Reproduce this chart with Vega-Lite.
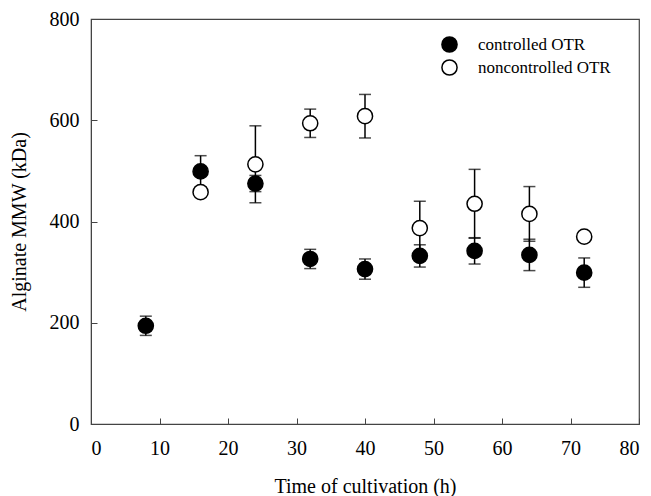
{
  "$schema": "https://vega.github.io/schema/vega-lite/v6.json",
  "width": 548,
  "height": 405,
  "autosize": "none",
  "padding": {"left": 91, "top": 19, "right": 12, "bottom": 72},
  "background": "white",
  "config": {
    "font": "Liberation Serif",
    "view": {"stroke": "#444", "strokeWidth": 1.2},
    "axis": {
      "domainColor": "#444",
      "tickColor": "#444",
      "grid": false,
      "labelColor": "black",
      "titleColor": "black",
      "labelFontSize": 20,
      "titleFontSize": 20,
      "titleFontWeight": "normal",
      "labelFont": "Liberation Serif",
      "titleFont": "Liberation Serif"
    }
  },
  "data": {
    "values": [
      {"time": 8, "group": "controlled OTR", "mean": 194, "lo": 175, "hi": 213},
      {"time": 16, "group": "controlled OTR", "mean": 499, "lo": 468, "hi": 530},
      {"time": 24, "group": "controlled OTR", "mean": 475, "lo": 459, "hi": 491},
      {"time": 32, "group": "controlled OTR", "mean": 326, "lo": 307, "hi": 345},
      {"time": 40, "group": "controlled OTR", "mean": 306, "lo": 286, "hi": 326},
      {"time": 48, "group": "controlled OTR", "mean": 332, "lo": 310, "hi": 354},
      {"time": 56, "group": "controlled OTR", "mean": 342, "lo": 316, "hi": 368},
      {"time": 64, "group": "controlled OTR", "mean": 334, "lo": 303, "hi": 365},
      {"time": 72, "group": "controlled OTR", "mean": 299, "lo": 270, "hi": 328},
      {"time": 16, "group": "noncontrolled OTR", "mean": 458, "lo": 450, "hi": 466},
      {"time": 24, "group": "noncontrolled OTR", "mean": 513, "lo": 437, "hi": 589},
      {"time": 32, "group": "noncontrolled OTR", "mean": 594, "lo": 566, "hi": 622},
      {"time": 40, "group": "noncontrolled OTR", "mean": 608, "lo": 565, "hi": 651},
      {"time": 48, "group": "noncontrolled OTR", "mean": 387, "lo": 334, "hi": 440},
      {"time": 56, "group": "noncontrolled OTR", "mean": 435, "lo": 367, "hi": 503},
      {"time": 64, "group": "noncontrolled OTR", "mean": 415, "lo": 361, "hi": 469},
      {"time": 72, "group": "noncontrolled OTR", "mean": 370, "lo": 362, "hi": 378}
    ]
  },
  "layer": [
    {
      "mark": {"type": "rule", "color": "black", "strokeWidth": 1.5},
      "encoding": {
        "x": {"field": "time", "type": "quantitative"},
        "y": {"field": "lo", "type": "quantitative"},
        "y2": {"field": "hi"}
      }
    },
    {
      "mark": {"type": "tick", "color": "black", "orient": "horizontal", "size": 12, "thickness": 1.5},
      "encoding": {
        "x": {"field": "time", "type": "quantitative"},
        "y": {"field": "lo", "type": "quantitative"}
      }
    },
    {
      "mark": {"type": "tick", "color": "black", "orient": "horizontal", "size": 12, "thickness": 1.5},
      "encoding": {
        "x": {"field": "time", "type": "quantitative"},
        "y": {"field": "hi", "type": "quantitative"}
      }
    },
    {
      "mark": {"type": "point", "shape": "circle", "size": 230, "stroke": "black", "strokeWidth": 1.5, "opacity": 1, "filled": false},
      "encoding": {
        "x": {
          "field": "time", "type": "quantitative",
          "scale": {"domain": [0, 80], "nice": false},
          "axis": {"values": [0, 10, 20, 30, 40, 50, 60, 70, 80], "tickSize": -6, "labelPadding": 20, "title": "Time of cultivation (h)", "titlePadding": 18}
        },
        "y": {
          "field": "mean", "type": "quantitative",
          "scale": {"domain": [0, 800], "nice": false},
          "axis": {"values": [0, 200, 400, 600, 800], "tickSize": -6, "labelPadding": 18, "title": "Alginate MMW (kDa)", "titlePadding": 20}
        },
        "fill": {
          "field": "group", "type": "nominal",
          "scale": {"domain": ["controlled OTR", "noncontrolled OTR"], "range": ["black", "white"]},
          "legend": {
            "title": null,
            "orient": "none",
            "legendX": 350,
            "legendY": 17,
            "symbolType": "circle",
            "symbolSize": 230,
            "symbolStrokeColor": "black",
            "symbolStrokeWidth": 1.5,
            "labelFontSize": 17,
            "labelFont": "Liberation Serif",
            "labelColor": "black",
            "labelOffset": 20,
            "rowPadding": 0
          }
        }
      }
    }
  ]
}
